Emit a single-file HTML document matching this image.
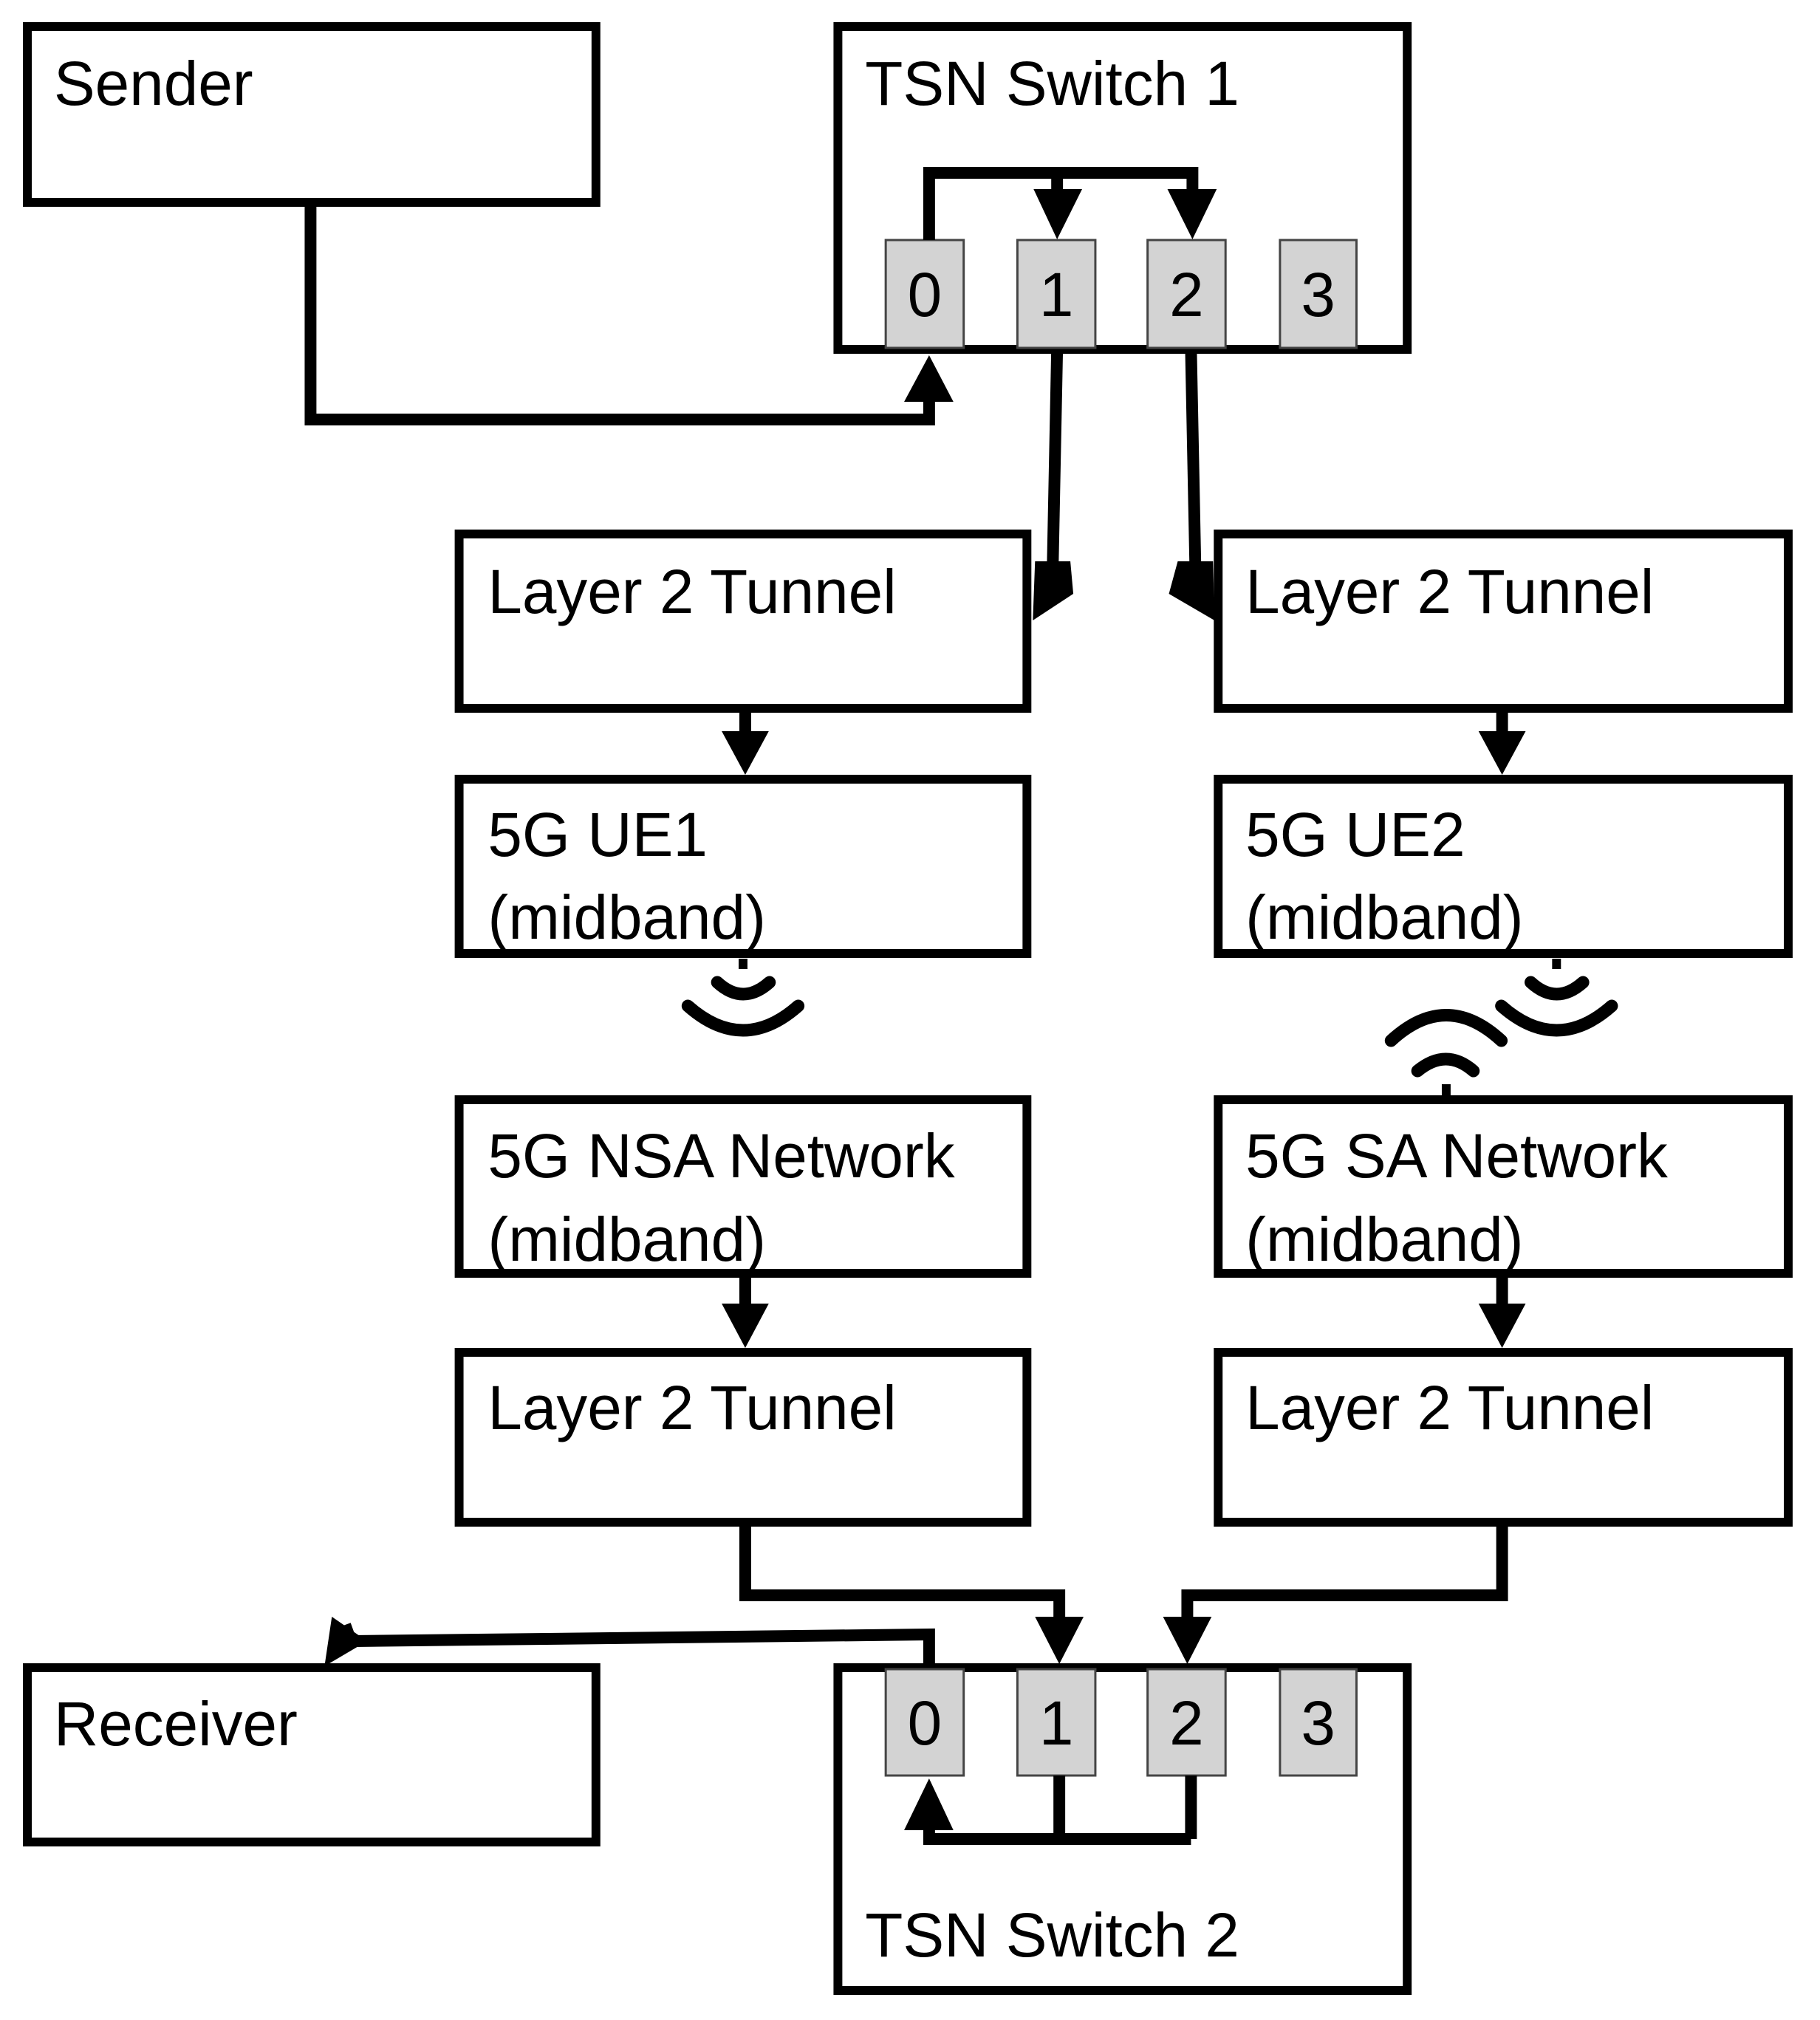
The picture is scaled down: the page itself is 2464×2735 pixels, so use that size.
<!DOCTYPE html>
<html><head><meta charset="utf-8"><style>
html,body{margin:0;padding:0;background:#fff}
svg{display:block}
text{font-family:"Liberation Sans",sans-serif;font-size:84px;fill:#000}
</style></head><body>
<svg width="2464" height="2735" viewBox="0 0 2464 2735" xmlns="http://www.w3.org/2000/svg">
<g transform="matrix(0.9958 0 0 1 -0.8 0)">
<g fill="none" stroke="#000" stroke-width="12">
<rect x="38" y="36" width="773" height="238"/>
<rect x="1140" y="36" width="774" height="437"/>
<rect x="625" y="723" width="772" height="236"/>
<rect x="1657" y="723" width="775" height="236"/>
<rect x="625" y="1055" width="772" height="236"/>
<rect x="1657" y="1055" width="775" height="236"/>
<rect x="625" y="1489" width="772" height="235"/>
<rect x="1657" y="1489" width="775" height="235"/>
<rect x="625" y="1831" width="772" height="230"/>
<rect x="1657" y="1831" width="775" height="230"/>
<rect x="38" y="2258" width="773" height="236"/>
<rect x="1140" y="2258" width="774" height="437"/>
</g>
<g fill="#d3d3d3" stroke="#444" stroke-width="3">
<rect x="1205" y="325" width="106" height="146"/>
<rect x="1384" y="325" width="106" height="146"/>
<rect x="1561" y="325" width="106" height="146"/>
<rect x="1741" y="325" width="104" height="146"/>
<rect x="1205" y="2260" width="106" height="144"/>
<rect x="1384" y="2260" width="106" height="144"/>
<rect x="1561" y="2260" width="106" height="144"/>
<rect x="1741" y="2260" width="104" height="144"/>
</g>
<g fill="none" stroke="#000" stroke-width="16" stroke-linejoin="miter">
<polyline points="1264,325 1264,234 1622,234 1622,262"/>
<line x1="1438" y1="234" x2="1438" y2="262"/>
<polyline points="423,274 423,568 1264,568 1264,540"/>
<polyline points="1438,473 1432,770"/>
<polyline points="1620,473 1626,770"/>
<line x1="1014" y1="959" x2="1014" y2="995"/>
<line x1="2043" y1="959" x2="2043" y2="995"/>
<line x1="1014" y1="1724" x2="1014" y2="1770"/>
<line x1="2043" y1="1724" x2="2043" y2="1770"/>
<polyline points="1014,2061 1014,2160 1441,2160 1441,2195"/>
<polyline points="2043,2061 2043,2160 1615,2160 1615,2195"/>
<polyline points="1264,2258 1264,2213 478,2222 470,2200"/>
<polyline points="1441,2404 1441,2490 1264,2490 1264,2470"/>
<line x1="1620" y1="2404" x2="1620" y2="2490"/>
<line x1="1620" y1="2490" x2="1441" y2="2490"/>
</g>
<g fill="#000">
<polygon points="1406,256 1472,256 1438,324"/>
<polygon points="1588,256 1655,256 1622,324"/>
<polygon points="1230,544 1297,544 1264,481"/>
<polygon points="1408,760 1456,760 1460,804 1405,840"/>
<polygon points="1602,760 1650,760 1652,840 1590,804"/>
<polygon points="982,990 1046,990 1014,1049"/>
<polygon points="2011,990 2075,990 2043,1049"/>
<polygon points="982,1765 1046,1765 1014,1825"/>
<polygon points="2011,1765 2075,1765 2043,1825"/>
<polygon points="1408,2189 1474,2189 1441,2253"/>
<polygon points="1582,2189 1648,2189 1615,2253"/>
<polygon points="1230,2478 1297,2478 1264,2408"/>
<polygon points="452,2189 500,2222 442,2256"/>
</g>
<g fill="none" stroke="#000" stroke-width="17" stroke-linecap="round">
<path d="M976,1330 Q1011,1362 1047,1330"/>
<path d="M936,1362 Q1011,1428 1086,1362"/>
<path d="M2082,1330 Q2117,1362 2153,1330"/>
<path d="M2042,1362 Q2117,1428 2192,1362"/>
<path d="M1892,1409 Q1967,1340 2042,1409"/>
<path d="M1928,1450 Q1967,1418 2004,1450"/>
</g>
<g fill="#000">
<rect x="1005" y="1298" width="12" height="14"/>
<rect x="2111" y="1298" width="12" height="14"/>
<rect x="1961" y="1468" width="12" height="16"/>
</g>
<text x="74" y="142">Sender</text>
<text x="1177" y="142">TSN Switch  1</text>
<text x="664" y="830">Layer 2 Tunnel</text>
<text x="1694" y="830">Layer 2 Tunnel</text>
<text x="664" y="1159">5G UE1</text>
<text x="664" y="1271">(midband)</text>
<text x="1694" y="1159">5G UE2</text>
<text x="1694" y="1271">(midband)</text>
<text x="664" y="1594">5G NSA Network</text>
<text x="664" y="1707">(midband)</text>
<text x="1694" y="1594">5G SA Network</text>
<text x="1694" y="1707">(midband)</text>
<text x="664" y="1935">Layer 2 Tunnel</text>
<text x="1694" y="1935">Layer 2 Tunnel</text>
<text x="74" y="2363">Receiver</text>
<text x="1177" y="2649">TSN Switch  2</text>
<g text-anchor="middle">
<text x="1258" y="428">0</text><text x="1437" y="428">1</text><text x="1614" y="428">2</text><text x="1793" y="428">3</text>
<text x="1258" y="2362">0</text><text x="1437" y="2362">1</text><text x="1614" y="2362">2</text><text x="1793" y="2362">3</text>
</g>
</g>
</svg>
</body></html>
